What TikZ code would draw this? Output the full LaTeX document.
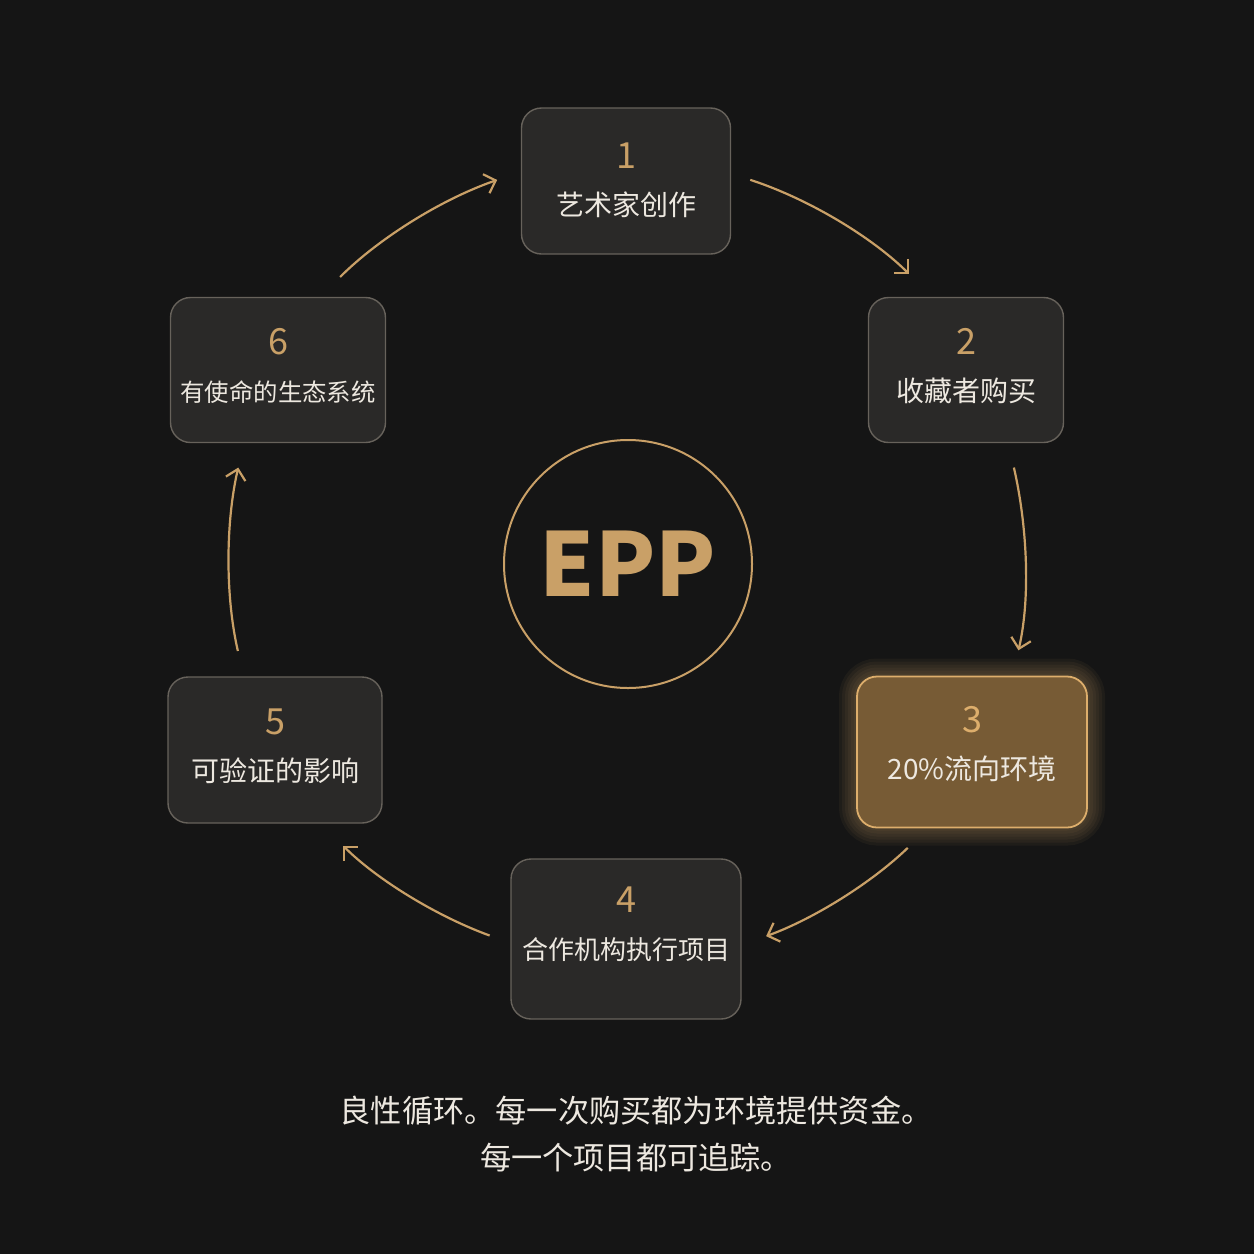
\documentclass[tikz,border=0pt]{standalone}
\usepackage{fontspec}
\usepackage{xcolor}
\usepackage{tikz}
\usetikzlibrary{arrows.meta, calc}
\newfontfamily\cjk{Noto Sans CJK SC}
\definecolor{pageColor}{HTML}{151515}
\definecolor{goldColor}{HTML}{C9A067}
\definecolor{boxFill}{HTML}{2A2928}
\definecolor{boxLine}{HTML}{67625B}
\definecolor{hotFill}{HTML}{775B35}
\definecolor{hotLine}{HTML}{DDAE6C}
\definecolor{labelText}{HTML}{EDE8E0}
\newcommand{\stepno}[1]{{\fontsize{18}{23.5}\selectfont\color{goldColor}#1}}
\tikzset{
    stepbox/.style={draw=boxLine, fill=boxFill, rounded corners=10pt, line width=0.7pt,
        align=center, inner sep=0pt, text=labelText, text depth=4.7pt,
        font=\cjk\fontsize{14}{23.5}\selectfont},
    hotbox/.style={stepbox, draw=hotLine, fill=hotFill, line width=0.9pt},
    flow/.style={draw=goldColor, line width=1.1pt, looseness=0.9,
        -{Straight Barb[length=5pt,width=10pt]}}
}

\begin{document}
\begin{tikzpicture}[x=0.5pt, y=0.5pt]
    \fill[pageColor] (0,0) rectangle (1254,-1254);
    % glow behind step 3
    \coordinate (c3) at (972,-752);
    \foreach \w in {3,6,...,18}
        \draw[goldColor, line width=\w pt, opacity=0.06, rounded corners=10pt]
            ($(c3)+(-115,-75.5)$) rectangle ($(c3)+(115,75.5)$);

    \node[stepbox, minimum width=104.5pt, minimum height=73pt, text depth=2pt] (b1) at (626,-181) {\stepno{1}\\艺术家创作};
    \node[stepbox, minimum width=97.5pt, minimum height=72.5pt] (b2) at (966,-370) {\stepno{2}\\收藏者购买};
    \node[hotbox, minimum width=115pt, minimum height=75.5pt, text depth=8.7pt] (b3) at (c3) {{\fontsize{18}{23.5}\selectfont\color{hotLine}3}\\20\%流向环境};
    \node[stepbox, minimum width=115pt, minimum height=80pt, text depth=15.6pt, font=\cjk\fontsize{13}{23.5}\selectfont] (b4) at (626,-939) {\stepno{4}\\合作机构执行项目};
    \node[stepbox, minimum width=107pt, minimum height=73pt] (b5) at (275,-750) {\stepno{5}\\可验证的影响};
    \node[stepbox, minimum width=107.5pt, minimum height=72.5pt, font=\cjk\fontsize{12.2}{23.5}\selectfont] (b6) at (278,-370) {\stepno{6}\\有使命的生态系统};

    \node[circle, draw=goldColor, line width=1pt, minimum size=124pt, inner sep=0pt,
        text=goldColor, font=\cjk\bfseries\fontsize{44}{44}\selectfont] (epp) at (628,-564) {EPP};

    \draw[flow, shorten <=10pt, shorten >=16pt] (b1.4) to[out=-18, in=135] (b2.115);
    \draw[flow, shorten <=12.5pt, shorten >=13pt] (b2.-60) to[out=-77, in=77] (b3.62);
    \draw[flow, shorten <=14pt, shorten >=13pt] (b3.-120) to[out=-136, in=20] (b4.-3);
    \draw[flow, shorten <=11pt, shorten >=15.5pt] (b4.182) to[out=160, in=-45] (b5.-58);
    \draw[flow, shorten <=13pt, shorten >=12.5pt] (b5.113) to[out=103, in=-103] (b6.-115);
    \draw[flow, shorten <=14pt, shorten >=12.5pt] (b6.60) to[out=45, in=-161] (b1.175);

    \node[text=labelText, align=center, font=\cjk\fontsize{15.6}{23.5}\selectfont] (note) at (636,-1134.5)
        {良性循环。每一次购买都为环境提供资金。\\每一个项目都可追踪。};
\end{tikzpicture}
\end{document}
